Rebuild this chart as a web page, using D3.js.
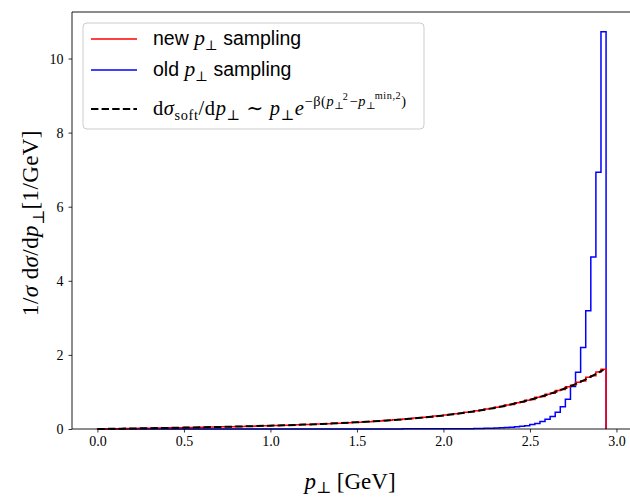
<!DOCTYPE html>
<html><head><meta charset="utf-8">
<script src="https://cdn.jsdelivr.net/npm/d3@7"></script>
<style>body{margin:0;background:#fff;} svg{display:block;}</style>
</head><body><svg id="c" width="630" height="497"></svg>
<script>
// ---- data ----
const binMin = 0, binMax = 2.94, nBins = 100;
const newSampling = [0.0011,0.0030,0.0053,0.0072,0.0095,0.0112,0.0137,0.0155,0.0181,0.0198,
0.0226,0.0243,0.0270,0.0287,0.0316,0.0334,0.0364,0.0382,0.0415,0.0432,
0.0466,0.0486,0.0522,0.0540,0.0579,0.0598,0.0640,0.0660,0.0706,0.0725,
0.0772,0.0794,0.0846,0.0866,0.0923,0.0946,0.1006,0.1028,0.1096,0.1120,
0.1190,0.1216,0.1294,0.1320,0.1402,0.1434,0.1523,0.1553,0.1652,0.1688,
0.1792,0.1830,0.1946,0.1986,0.2107,0.2156,0.2293,0.2338,0.2486,0.2541,
0.2704,0.2762,0.2942,0.3007,0.3193,0.3271,0.3483,0.3559,0.3791,0.3886,
0.4137,0.4225,0.4515,0.4625,0.4923,0.5050,0.5393,0.5524,0.5890,0.6056,
0.6465,0.6619,0.7086,0.7282,0.7771,0.7984,0.8556,0.8788,0.9381,0.9679,
1.0368,1.0645,1.1421,1.1778,1.2610,1.2976,1.3958,1.4387,1.5397,1.6145];
const oldSampling = [0,0,0,0,0,0,0,0,0,0,
0,0,0,0,0,0,0,0,0,0,
0,0,0,0,0,0,0,0,0,0.0001,
0.0001,0.0001,0.0001,0.0002,0.0002,0.0002,0.0003,0.0003,0.0004,0.0004,
0.0005,0.0006,0.0006,0.0007,0.0008,0.0009,0.0010,0.0011,0.0012,0.0013,
0.0015,0.0016,0.0018,0.0019,0.0021,0.0023,0.0025,0.0027,0.0030,0.0032,
0.0034,0.0036,0.0038,0.0040,0.0042,0.0044,0.0046,0.0048,0.0049,0.0050,
0.0050,0.0065,0.008,0.010,0.012,0.015,0.018,0.022,0.027,0.033,
0.040,0.050,0.060,0.075,0.090,0.120,0.150,0.200,0.260,0.340,
0.450,0.600,0.800,1.150,1.530,2.200,3.190,4.640,6.930,10.720];
const curveX = [0,0.1,0.2,0.3,0.4,0.5,0.6,0.7,0.8,0.9,1.0,1.1,1.2,1.3,1.4,1.5,1.6,1.7,1.8,1.9,2.0,2.1,2.2,2.3,2.4,2.5,2.6,2.7,2.8,2.9,2.925];
const curveY = [0,0.0071,0.0142,0.0216,0.0292,0.0373,0.0460,0.0553,0.0656,0.0769,0.0894,0.1034,0.1192,0.1371,0.1575,0.1810,0.2079,0.2391,0.2754,0.3177,0.3672,0.4254,0.4941,0.5755,0.6723,0.7877,0.9258,1.0918,1.2920,1.5344,1.598];
const xTicks = [0.0,0.5,1.0,1.5,2.0,2.5,3.0];
const yTicks = [0,2,4,6,8,10];
const seriesColors = ["#ff0000","#0000ff","#000000"];

// ---- layout ----
const svg = d3.select("#c");
const L = 72, R = 631.5, T = 12, B = 429;
const x = d3.scaleLinear().domain([-0.147, 3.087]).range([L, R]);
const y = d3.scaleLinear().domain([0, 11.256]).range([B, T]);
const serif = "'Liberation Serif','DejaVu Serif',serif";
const sans = "'Liberation Sans','DejaVu Sans',sans-serif";

const edges = d3.range(nBins + 1).map(i => binMin + (binMax - binMin) * i / nBins);
function stepPts(vals) {
  const pts = [[edges[0], 0]];
  vals.forEach((v, i) => pts.push([edges[i], v]));
  pts.push([edges[nBins], vals[nBins - 1]]);
  pts.push([edges[nBins], 0]);
  return pts;
}
const stepLine = d3.line().x(d => x(d[0])).y(d => y(d[1])).curve(d3.curveStepAfter);

svg.append("path").attr("d", stepLine(stepPts(oldSampling)))
  .attr("fill", "none").attr("stroke", seriesColors[1]).attr("stroke-width", 1.5);
svg.append("path").attr("d", stepLine(stepPts(newSampling)))
  .attr("fill", "none").attr("stroke", seriesColors[0]).attr("stroke-width", 1.5);
svg.append("path").attr("d", d3.line().x((d, i) => x(curveX[i])).y(d => y(d)).curve(d3.curveMonotoneX)(curveY))
  .attr("fill", "none").attr("stroke", seriesColors[2]).attr("stroke-width", 2)
  .attr("stroke-dasharray", "7.4,3.2");

// ---- axes ----
const gx = svg.append("g").attr("transform", `translate(0,${B})`)
  .call(d3.axisBottom(x).tickValues(xTicks).tickSize(3.5).tickPadding(4).tickFormat(d3.format(".1f")));
const gy = svg.append("g").attr("transform", `translate(${L},0)`)
  .call(d3.axisLeft(y).tickValues(yTicks).tickSize(3.5).tickPadding(5).tickFormat(d3.format("d")));
[gx, gy].forEach(g => {
  g.select(".domain").remove();
  g.selectAll(".tick line").attr("stroke", "#000").attr("stroke-width", 0.8);
  g.selectAll(".tick text").style("font-family", serif).style("font-size", "14px").attr("fill", "#000");
});
// spines
svg.append("path").attr("d", `M${L},${B}H${R}V${T}H${L}Z`).attr("fill", "none")
  .attr("stroke", "#000").attr("stroke-width", 0.9);

// ---- rich text helper ----
function rich(parent, segs, size, ls) {
  const t = parent.append("text").attr("x", 0).attr("y", 0).style("font-size", size + "px").attr("fill", "#000");
  if (ls) t.style("letter-spacing", ls + "px");
  let cur = 0;
  segs.forEach(s => {
    const off = (s.o || 0) * size;
    const ts = t.append("tspan").attr("dy", off - cur)
      .style("font-family", s.f || serif)
      .style("font-style", s.i ? "italic" : "normal")
      .style("font-size", (s.s || 1) * size + "px")
      .text(s.t);
    if (s.dx) ts.attr("dx", s.dx * size);
    cur = off;
  });
  return t;
}

// ---- legend ----
const lg = svg.append("g");
lg.append("rect").attr("x", 83).attr("y", 23).attr("width", 341).attr("height", 106).attr("rx", 4)
  .attr("fill", "#fff").attr("fill-opacity", 0.8).attr("stroke", "#cccccc").attr("stroke-width", 1);
const rowsY = [39, 70, 109];
const legendStyles = [{c: seriesColors[0], dash: null, w: 1.5}, {c: seriesColors[1], dash: null, w: 1.5}, {c: seriesColors[2], dash: "7.4,3.2", w: 2}];
legendStyles.forEach((st, i) => {
  lg.append("line").attr("x1", 91).attr("x2", 137).attr("y1", rowsY[i]).attr("y2", rowsY[i])
    .attr("stroke", st.c).attr("stroke-width", st.w).attr("stroke-dasharray", st.dash);
});
const sub = 0.25, sup = -0.45;
const legendTexts = [
  [{t: "new ", f: sans}, {t: "p", i: 1, s: 1.1}, {t: "⊥", s: 0.7, o: sub}, {t: " sampling", f: sans}],
  [{t: "old ", f: sans}, {t: "p", i: 1, s: 1.1}, {t: "⊥", s: 0.7, o: sub}, {t: " sampling", f: sans}],
  [{t: "d"}, {t: "σ", i: 1}, {t: "soft", s: 0.7, o: sub}, {t: "/d"}, {t: "p", i: 1}, {t: "⊥", s: 0.7, o: sub},
   {t: " ∼ "}, {t: "p", i: 1}, {t: "⊥", s: 0.7, o: sub}, {t: "e", i: 1},
   {t: "−β(", s: 0.7, o: sup}, {t: "p", s: 0.7, o: sup, i: 1}, {t: "⊥", s: 0.5, o: -0.3},
   {t: "2", s: 0.5, o: -0.74, dx: -0.08}, {t: "−", s: 0.7, o: sup, dx: 0.05}, {t: "p", s: 0.7, o: sup, i: 1},
   {t: "⊥", s: 0.5, o: -0.3}, {t: "min,2", s: 0.5, o: -0.78, dx: -0.08}, {t: ")", s: 0.7, o: sup}]
];
const textBase = [45, 76, 115];
const textSize = [19.5, 19.5, 20.5];
const textLs = [0, 0, 0.6];
legendTexts.forEach((segs, i) => {
  rich(lg, segs, textSize[i], textLs[i]).attr("transform", `translate(153,${textBase[i]})`);
});

// ---- axis labels ----
rich(svg, [{t: "p", i: 1}, {t: "⊥", s: 0.7, o: 0.18}, {t: " [GeV]"}], 23)
  .attr("text-anchor", "middle").attr("transform", "translate(350,489)");
rich(svg, [{t: "1/"}, {t: "σ", i: 1}, {t: " d"}, {t: "σ", i: 1}, {t: "/d"}, {t: "p", i: 1},
  {t: "⊥", s: 0.7, o: 0.25}, {t: "[1/GeV]"}], 23, 0.4)
  .attr("text-anchor", "middle").attr("transform", "translate(38,223) rotate(-90)");
</script></body></html>
